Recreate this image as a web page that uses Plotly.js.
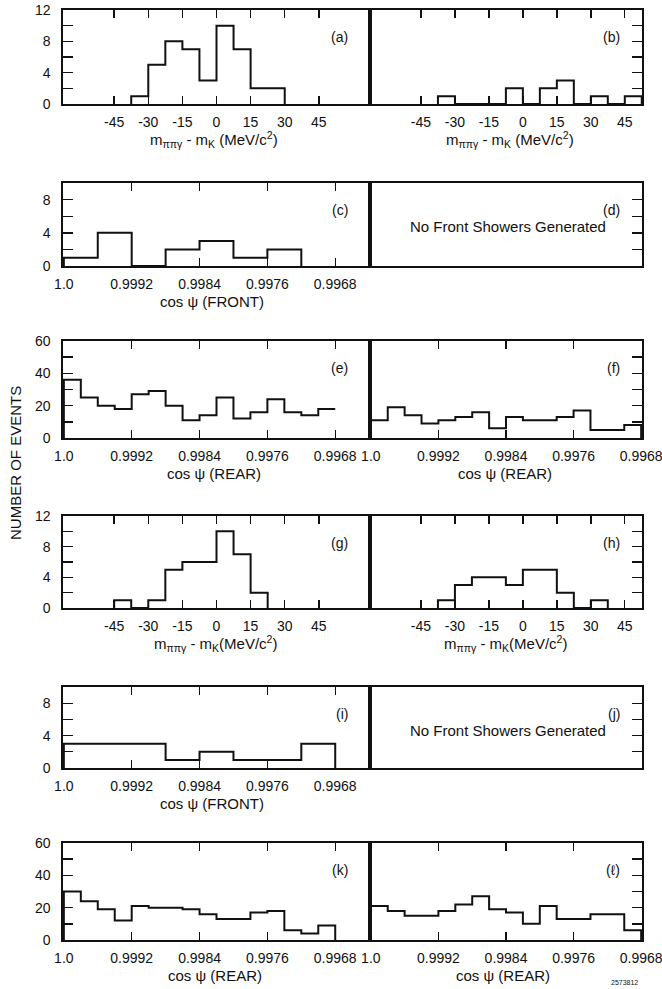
<!DOCTYPE html>
<html>
<head>
<meta charset="utf-8">
<script src="https://cdn.plot.ly/plotly-3.0.1.min.js"></script>
<style>html,body{margin:0;padding:0;background:#fff;}#chart{width:662px;height:989px;}</style>
</head>
<body>
<div id="chart"></div>
<script>
// ---------------- DATA ----------------
const massTicks = [-45, -30, -15, 0, 15, 30, 45];
const massTickText = ["-45", "-30", "-15", "0", "15", "30", "45"];
const cosTicks = [1.0, 0.9992, 0.9984, 0.9976, 0.9968];
const cosTickText = ["1.0", "0.9992", "0.9984", "0.9976", "0.9968"];
const yTicks12 = [0, 4, 8, 12];
const yTicks10 = [0, 4, 8];
const yTicks60 = [0, 20, 40, 60];

const aEdges = [-37.5, -30, -22.5, -15, -7.5, 0, 7.5, 15, 22.5, 30];
const aCounts = [1, 5, 8, 7, 3, 10, 7, 2, 2];

const bEdges = [-37.5, -30, -22.5, -15, -7.5, 0, 7.5, 15, 22.5, 30, 37.5, 45, 52.5];
const bCounts = [1, 0, 0, 0, 2, 0, 2, 3, 0, 1, 0, 1];

const cEdges = [1.0, 0.9996, 0.9992, 0.9988, 0.9984, 0.9980, 0.9976, 0.9972];
const cCounts = [1, 4, 0, 2, 3, 1, 2];

const rearEdges = [1.0, 0.9998, 0.9996, 0.9994, 0.9992, 0.9990, 0.9988, 0.9986, 0.9984,
                   0.9982, 0.9980, 0.9978, 0.9976, 0.9974, 0.9972, 0.9970, 0.9968];
const eCounts = [36, 25, 20, 18, 27, 29, 20, 11, 14, 25, 12, 16, 24, 16, 14, 18];
const fCounts = [11, 19, 14, 9, 11, 13, 16, 6, 13, 11, 11, 13, 17, 5, 5, 8];

const gEdges = [-45, -37.5, -30, -22.5, -15, -7.5, 0, 7.5, 15, 22.5];
const gCounts = [1, 0, 1, 5, 6, 6, 10, 7, 2];

const hEdges = [-37.5, -30, -22.5, -15, -7.5, 0, 7.5, 15, 22.5, 30, 37.5];
const hCounts = [1, 3, 4, 4, 3, 5, 5, 2, 0, 1];

const iEdges = [1.0, 0.9996, 0.9992, 0.9988, 0.9984, 0.9980, 0.9976, 0.9972, 0.9968];
const iCounts = [3, 3, 3, 1, 2, 1, 1, 3];

const kCounts = [30, 24, 19, 12, 21, 20, 20, 19, 16, 13, 13, 17, 18, 6, 4, 9];
const lCounts = [21, 18, 15, 15, 18, 22, 27, 19, 17, 10, 21, 13, 13, 16, 16, 6];

const panelLabels = ["(a)", "(b)", "(c)", "(d)", "(e)", "(f)", "(g)", "(h)", "(i)", "(j)", "(k)", "(ℓ)"];
const massTitle1 = "m<sub>ππγ</sub> - m<sub>K</sub> (MeV/c<sup>2</sup>)";
const massTitle2 = "m<sub>ππγ</sub> - m<sub>K</sub>(MeV/c<sup>2</sup>)";
const frontTitle = "cos ψ (FRONT)";
const rearTitle = "cos ψ (REAR)";
const noFront = "No Front Showers Generated";
const yTitle = "NUMBER OF EVENTS";
const figCode = "2573812";

// ---------------- LAYOUT ----------------
const W = 662, H = 989;
const FONT = "Liberation Sans, Arial, sans-serif";
const INK = "#111";
const LX = [63, 370], RX = [370, 642];
const rows = [
  {top: 10, bot: 104, kind: "mass12"},
  {top: 183, bot: 266, kind: "cos10"},
  {top: 341, bot: 438, kind: "cos60"},
  {top: 516, bot: 608, kind: "mass12"},
  {top: 687, bot: 768, kind: "cos10"},
  {top: 843, bot: 940, kind: "cos60"}
];

const panels = [
  {row: 0, side: "L", edges: aEdges, counts: aCounts, title: massTitle1, tx: 214},
  {row: 0, side: "R", edges: bEdges, counts: bCounts, title: massTitle1, tx: 510},
  {row: 1, side: "L", edges: cEdges, counts: cCounts, title: frontTitle, tx: 212},
  {row: 1, side: "R", note: noFront},
  {row: 2, side: "L", edges: rearEdges, counts: eCounts, title: rearTitle, tx: 214, open: true},
  {row: 2, side: "R", edges: rearEdges, counts: fCounts, title: rearTitle, tx: 505},
  {row: 3, side: "L", edges: gEdges, counts: gCounts, title: massTitle2, tx: 215},
  {row: 3, side: "R", edges: hEdges, counts: hCounts, title: massTitle2, tx: 505},
  {row: 4, side: "L", edges: iEdges, counts: iCounts, title: frontTitle, tx: 212},
  {row: 4, side: "R", note: noFront},
  {row: 5, side: "L", edges: rearEdges, counts: kCounts, title: rearTitle, tx: 215},
  {row: 5, side: "R", edges: rearEdges, counts: lCounts, title: rearTitle, tx: 503}
];

const layout = {
  width: W, height: H,
  margin: {l: 0, r: 0, t: 0, b: 0},
  paper_bgcolor: "#fff", plot_bgcolor: "#fff",
  showlegend: false,
  font: {family: FONT, size: 14, color: INK},
  annotations: []
};
const data = [];

panels.forEach((p, idx) => {
  const n = idx + 1;
  const sfx = n === 1 ? "" : String(n);
  const xa = "xaxis" + sfx, ya = "yaxis" + sfx;
  const xr = "x" + sfx, yr = "y" + sfx;
  const r = rows[p.row];
  const px = p.side === "L" ? LX : RX;
  const isMass = r.kind === "mass12";
  const isNote = !!p.note;

  let xrange;
  if (isMass) xrange = p.side === "L" ? [-67.5, 67.5] : [-67.5, 52.6];
  else xrange = p.side === "L" ? [1.00001, 0.99639] : [1.00001, 0.99679];

  const xaxis = {
    domain: [px[0] / W, px[1] / W],
    anchor: yr,
    range: xrange,
    showline: true, linecolor: INK, linewidth: 1.6,
    showgrid: false, zeroline: false, fixedrange: true
  };
  if (isNote) {
    Object.assign(xaxis, {mirror: true, ticks: "", showticklabels: false, tickmode: "array", tickvals: []});
  } else {
    Object.assign(xaxis, {
      mirror: "allticks",
      ticks: "inside", ticklen: 8, tickwidth: 1.4, tickcolor: INK,
      tickmode: "array",
      tickvals: isMass ? massTicks : cosTicks,
      ticktext: isMass ? massTickText : cosTickText,
      ticklabelstandoff: 5,
      ticklabeloverflow: "allow",
      tickfont: {family: FONT, size: 14, color: INK}
    });
  }
  layout[xa] = xaxis;

  let yrange, yvals, ydt;
  if (r.kind === "mass12") { yrange = [0, 12]; yvals = yTicks12; ydt = 2; }
  else if (r.kind === "cos10") { yrange = [0, 10]; yvals = yTicks10; ydt = 2; }
  else { yrange = [0, 60]; yvals = yTicks60; ydt = 10; }

  const left = p.side === "L";
  layout[ya] = {
    domain: [1 - r.bot / H, 1 - r.top / H],
    anchor: xr,
    range: yrange,
    side: left ? "left" : "right",
    showline: true, linecolor: INK, linewidth: 1.6, mirror: true,
    ticks: "inside", ticklen: 10, tickwidth: 1.4, tickcolor: INK,
    tickmode: "array",
    tickvals: left ? yvals : [],
    ticktext: left ? yvals.map(String) : [],
    minor: {ticks: "inside", tickmode: "linear", tick0: 0, dtick: ydt, ticklen: 10, tickwidth: 1.4, tickcolor: INK, showgrid: false},
    showticklabels: left,
    ticklabelstandoff: 8,
    tickfont: {family: FONT, size: 14, color: INK},
    showgrid: false, zeroline: false, fixedrange: true
  };

  if (p.edges) {
    const xs = [p.edges[0]].concat(p.edges);
    const ys = [0].concat(p.counts).concat([p.open ? p.counts[p.counts.length - 1] : 0]);
    data.push({
      type: "scatter", mode: "lines", x: xs, y: ys,
      xaxis: xr, yaxis: yr,
      line: {shape: "hv", color: INK, width: 2},
      hoverinfo: "skip", cliponaxis: false
    });
  } else {
    data.push({type: "scatter", mode: "lines", x: [xrange[0]], y: [0], xaxis: xr, yaxis: yr,
               line: {color: "rgba(0,0,0,0)"}, hoverinfo: "skip"});
  }

  layout.annotations.push({
    xref: "paper", yref: "paper",
    x: (px[1] - 20) / W, y: 1 - (r.top + 27) / H,
    xanchor: "right", yanchor: "middle",
    text: panelLabels[idx], showarrow: false,
    font: {family: FONT, size: 14, color: INK}
  });
  if (p.note) {
    layout.annotations.push({
      xref: "paper", yref: "paper",
      x: 508 / W, y: 1 - (r.top + 43) / H,
      xanchor: "center", yanchor: "middle",
      text: p.note, showarrow: false,
      font: {family: FONT, size: 15, color: INK}
    });
  }
  if (p.title) {
    layout.annotations.push({
      xref: "paper", yref: "paper",
      x: p.tx / W, y: 1 - (r.bot + 35) / H,
      xanchor: "center", yanchor: "middle",
      text: p.title, showarrow: false,
      font: {family: FONT, size: 15, color: INK}
    });
  }
});

layout.annotations.push({
  xref: "paper", yref: "paper", x: 15 / W, y: 1 - 463 / H,
  xanchor: "center", yanchor: "middle", textangle: -90,
  text: yTitle, showarrow: false,
  font: {family: FONT, size: 15, color: INK}
});
layout.annotations.push({
  xref: "paper", yref: "paper", x: 640 / W, y: 1 - 982 / H,
  xanchor: "right", yanchor: "middle",
  text: figCode, showarrow: false,
  font: {family: FONT, size: 7, color: INK}
});

Plotly.newPlot("chart", data, layout, {staticPlot: true, displayModeBar: false});
</script>
</body>
</html>
